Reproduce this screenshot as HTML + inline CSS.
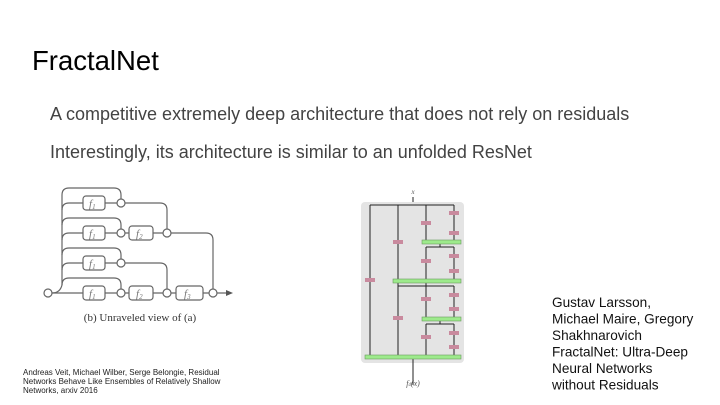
<!DOCTYPE html>
<html><head><style>
body{margin:0;width:720px;height:405px;background:#fff;overflow:hidden;font-family:"Liberation Sans",sans-serif;}
</style></head><body>
<svg width="720" height="405" xmlns="http://www.w3.org/2000/svg" style="position:absolute;left:0;top:0">
<text x="32" y="70" font-size="27.5" fill="#000" font-family="Liberation Sans">FractalNet</text>
<text x="50" y="120" font-size="18" fill="#434343" font-family="Liberation Sans">A competitive extremely deep architecture that does not rely on residuals</text>
<text x="50" y="158" font-size="18" fill="#434343" font-family="Liberation Sans">Interestingly, its architecture is similar to an unfolded ResNet</text>

<!-- left diagram -->
<g fill="none" stroke="#666" stroke-width="1.2">
<path d="M52 293 Q60 293 62 285 L62 195 Q62 188 69 188 L114 188 Q121 188 121 195 L121 199"/>
<path d="M62 210 Q62 203 69 203 L83 203"/>
<path d="M62 225 Q62 218 69 218 L114 218 Q121 218 121 225 L121 229"/>
<path d="M62 240 Q62 233 69 233 L83 233"/>
<path d="M62 255 Q62 248 69 248 L114 248 Q121 248 121 255 L121 259"/>
<path d="M62 270 Q62 263 69 263 L83 263"/>
<path d="M62 285 Q62 278 69 278 L114 278 Q121 278 121 285 L121 289"/>
<path d="M52 293 L83 293"/>
<path d="M105 203 L117 203 M105 233 L117 233 M105 263 L117 263 M105 293 L117 293"/>
<path d="M125 203 L160 203 Q167 203 167 210 L167 229"/>
<path d="M125 233 L129 233 M153 233 L163 233"/>
<path d="M171 233 L206 233 Q213 233 213 240 L213 289"/>
<path d="M125 263 L160 263 Q167 263 167 270 L167 289"/>
<path d="M125 293 L129 293 M153 293 L163 293 M171 293 L176 293 M203 293 L209 293 M217 293 L226 293"/>
<g fill="#fff">
<rect x="83" y="196" width="22" height="14" rx="3"/>
<rect x="83" y="226" width="22" height="14" rx="3"/>
<rect x="83" y="256" width="22" height="14" rx="3"/>
<rect x="83" y="286" width="22" height="14" rx="3"/>
<rect x="129" y="226" width="24" height="14" rx="3"/>
<rect x="129" y="286" width="24" height="14" rx="3"/>
<rect x="176" y="286" width="27" height="14" rx="3"/>
<circle cx="48" cy="293" r="4"/>
<circle cx="121" cy="203" r="4"/><circle cx="121" cy="233" r="4"/><circle cx="121" cy="263" r="4"/><circle cx="121" cy="293" r="4"/>
<circle cx="167" cy="233" r="4"/><circle cx="167" cy="293" r="4"/><circle cx="213" cy="293" r="4"/>
</g>
</g>
<path d="M226 290 L233 293 L226 296 Z" fill="#555"/>
<g font-family="Liberation Serif" font-style="italic" font-size="11" fill="#777">
<text x="89" y="207">f<tspan font-size="7" dy="2">1</tspan></text>
<text x="89" y="237">f<tspan font-size="7" dy="2">1</tspan></text>
<text x="89" y="267">f<tspan font-size="7" dy="2">1</tspan></text>
<text x="89" y="297">f<tspan font-size="7" dy="2">1</tspan></text>
<text x="136" y="237">f<tspan font-size="7" dy="2">2</tspan></text>
<text x="136" y="297">f<tspan font-size="7" dy="2">2</tspan></text>
<text x="184" y="297">f<tspan font-size="7" dy="2">3</tspan></text>
</g>
<text x="140" y="321" text-anchor="middle" font-family="Liberation Serif" font-size="11" fill="#333">(b) Unraveled view of (a)</text>

<g font-family="Liberation Sans" font-size="8" fill="#222">
<text x="23" y="375">Andreas Veit, Michael Wilber, Serge Belongie, Residual</text>
<text x="23" y="384">Networks Behave Like Ensembles of Relatively Shallow</text>
<text x="23" y="393">Networks, arxiv 2016</text>
</g>

<!-- right diagram -->
<rect x="361" y="202" width="103" height="161" rx="4" fill="#e4e4e4"/>
<g stroke="#222" stroke-width="1" fill="none">
<path d="M413 197 L413 202 M370 205 L454 205 M370 205 L370 357 M398 205 L398 357 M426 205 L426 242 M454 205 L454 242"/>
<path d="M440 242 L440 247 M426 247 L454 247 M426 247 L426 281 M454 247 L454 281"/>
<path d="M426 281 L426 286 M398 286 L454 286 M398 286 L398 357 M426 286 L426 319 M454 286 L454 319"/>
<path d="M440 319 L440 324 M426 324 L454 324 M426 324 L426 357 M454 324 L454 357"/>
<path d="M413 357 L413 385"/>
</g>
<g fill="#9dea8c" stroke="#6a9a60" stroke-width="0.6">
<rect x="422" y="240" width="39" height="4"/>
<rect x="393" y="279" width="68" height="4"/>
<rect x="422" y="317" width="39" height="4"/>
<rect x="365" y="355" width="96" height="4"/>
</g>
<g fill="#c98a9e">
<rect x="449" y="211" width="10" height="4"/><rect x="449" y="231" width="10" height="4"/>
<rect x="449" y="254" width="10" height="4"/><rect x="449" y="269" width="10" height="4"/>
<rect x="449" y="293" width="10" height="4"/><rect x="449" y="307" width="10" height="4"/>
<rect x="449" y="331" width="10" height="4"/><rect x="449" y="345" width="10" height="4"/>
<rect x="421" y="221" width="10" height="4"/><rect x="421" y="259" width="10" height="4"/>
<rect x="421" y="297" width="10" height="4"/><rect x="421" y="335" width="10" height="4"/>
<rect x="393" y="240" width="10" height="4"/><rect x="393" y="316" width="10" height="4"/>
<rect x="365" y="278" width="10" height="4"/>
</g>
<text x="413" y="194" text-anchor="middle" font-family="Liberation Serif" font-style="italic" font-size="7" fill="#555">x</text>
<text x="413" y="386" text-anchor="middle" font-family="Liberation Serif" font-style="italic" font-size="8" fill="#555">f<tspan font-size="5">4</tspan>(x)</text>

<g font-family="Liberation Sans" font-size="13.6" fill="#111">
<text x="552" y="307">Gustav Larsson,</text>
<text x="552" y="323.5">Michael Maire, Gregory</text>
<text x="552" y="340">Shakhnarovich</text>
<text x="552" y="356.5">FractalNet: Ultra-Deep</text>
<text x="552" y="373">Neural Networks</text>
<text x="552" y="389.5">without Residuals</text>
</g>
</svg>
</body></html>
